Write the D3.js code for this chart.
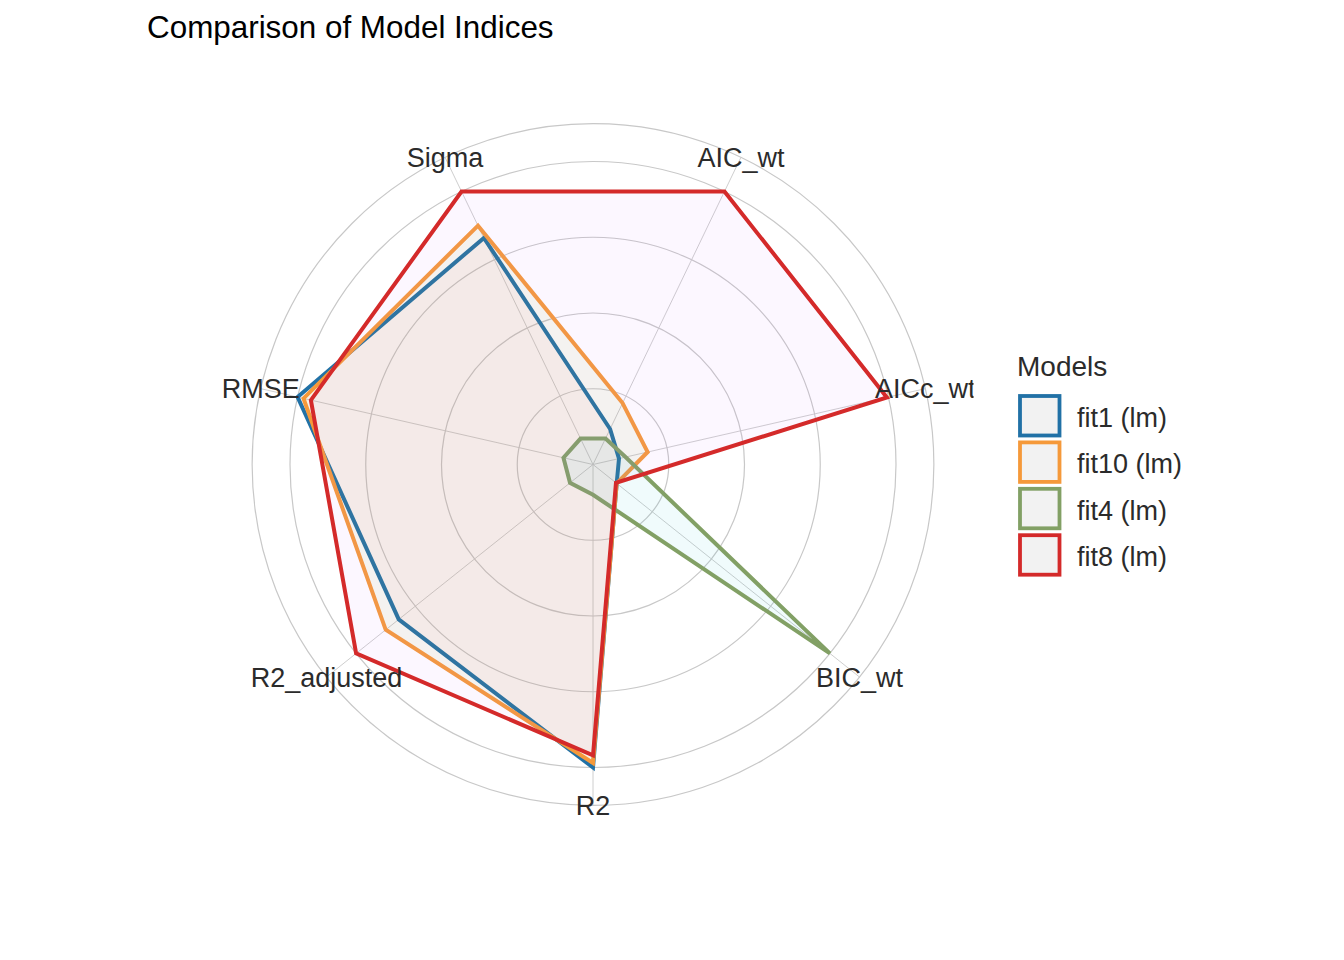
<!DOCTYPE html>
<html>
<head>
<meta charset="utf-8">
<script src="https://cdn.jsdelivr.net/npm/d3@7"></script>
<style>
  body { margin: 0; background: #fff; }
  text { font-family: "Liberation Sans", Arial, sans-serif; }
</style>
</head>
<body>
<div id="chart"></div>
<script>
// indices, clockwise from the top
const categories = ["AIC_wt", "AICc_wt", "BIC_wt", "R2", "R2_adjusted", "RMSE", "Sigma"];
const models = ["fit1 (lm)", "fit10 (lm)", "fit4 (lm)", "fit8 (lm)"];

// rescaled values per model (same order as categories)
const fit1 = [0.13, 0.088, 0.10, 1.0, 0.82, 1.0, 0.83];
const fit10 = [0.225, 0.185, 0.10, 0.985, 0.875, 0.98, 0.875];
const fit4 = [0.095, 0.11, 1.0, 0.10, 0.097, 0.10, 0.095];
const fit8 = [1.0, 0.995, 0.097, 0.96, 1.0, 0.955, 1.0];

const ringTicks = [0.25, 0.5, 0.75, 1.0, 1.125];

const series = [fit1, fit10, fit4, fit8];
const lineColors = ["#2171a6", "#f5993a", "#82a065", "#d42a2a"];
const fillColors = ["#F8766D", "#7CAE00", "#00BFC4", "#C77CFF"];

drawRadar();

function drawRadar() {
    const width = 1344;
    const height = 960;
    const cx = 593, cy = 464.5;

    const svg = d3.select("#chart").append("svg")
        .attr("width", width)
        .attr("height", height);

    // panel clip (the right label gets cut like in ggplot)
    svg.append("clipPath").attr("id", "panel")
        .append("rect")
        .attr("x", 212.5).attr("y", 84)
        .attr("width", 761).attr("height", 761);

    const angle = d3.scaleLinear()
        .domain([0, categories.length])
        .range([0, 2 * Math.PI]);
    const r = d3.scaleLinear()
        .domain([0, 1])
        .range([0, 303]);

    const a = i => angle(i + 0.5);

    const g = svg.append("g")
        .attr("clip-path", "url(#panel)")
        .append("g")
        .attr("transform", "translate(" + cx + "," + cy + ")");

    // rings
    g.selectAll(".ring")
        .data(ringTicks)
        .join("circle")
        .attr("r", d => r(d))
        .attr("fill", "none")
        .attr("stroke", "#c8c8c8")
        .attr("stroke-width", 1.2);

    // spokes
    g.selectAll(".spoke")
        .data(categories)
        .join("line")
        .attr("x1", 0).attr("y1", 0)
        .attr("x2", (d, i) => Math.sin(a(i)) * r(1.125))
        .attr("y2", (d, i) => -Math.cos(a(i)) * r(1.125))
        .attr("stroke", "#c8c8c8")
        .attr("stroke-width", 0.9);

    // polygons
    const line = d3.lineRadial()
        .angle((d, i) => a(i))
        .radius(d => r(d))
        .curve(d3.curveLinearClosed);

    for (let i = 0; i < series.length; i++) {
        g.append("path")
            .attr("d", line(series[i]))
            .attr("fill", fillColors[i])
            .attr("fill-opacity", 0.06)
            .attr("stroke", lineColors[i])
            .attr("stroke-width", 4)
            .attr("stroke-linejoin", "miter");
    }

    // category labels
    g.selectAll(".lab")
        .data(categories)
        .join("text")
        .attr("x", (d, i) => Math.sin(a(i)) * r(1.125))
        .attr("y", (d, i) => -Math.cos(a(i)) * r(1.125))
        .attr("dy", "0.36em")
        .attr("text-anchor", "middle")
        .attr("font-size", 27)
        .attr("fill", "#2b2b2b")
        .text(d => d);

    // title
    svg.append("text")
        .attr("x", 147).attr("y", 38)
        .attr("font-size", 31.4)
        .attr("fill", "#000")
        .text("Comparison of Model Indices");

    // legend
    const leg = svg.append("g");
    leg.append("text")
        .attr("x", 1017).attr("y", 376)
        .attr("font-size", 28)
        .attr("fill", "#2b2b2b")
        .text("Models");

    const item = leg.selectAll(".item")
        .data(models)
        .join("g")
        .attr("transform", (d, i) => "translate(1020," + (396 + i * 46.4) + ")");

    item.append("rect")
        .attr("width", 39.5).attr("height", 39.5)
        .attr("fill", "#f2f2f2")
        .attr("stroke", (d, i) => lineColors[i])
        .attr("stroke-width", 3.8);

    item.append("text")
        .attr("x", 57).attr("y", 31)
        .attr("font-size", 27)
        .attr("fill", "#2b2b2b")
        .text(d => d);
}
</script>
</body>
</html>
